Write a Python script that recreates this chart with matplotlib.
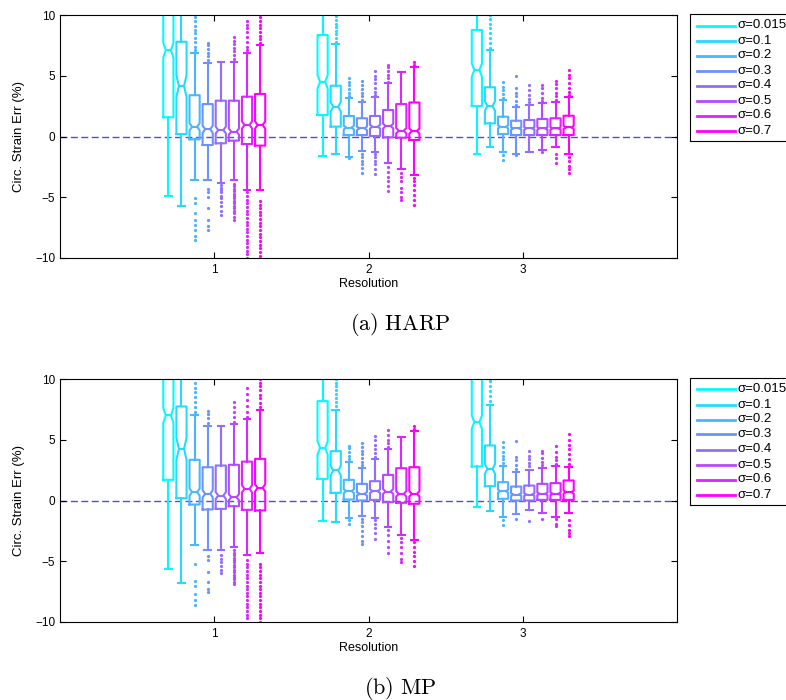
import matplotlib
matplotlib.use("Agg")
import matplotlib.pyplot as plt
from matplotlib.lines import Line2D
from matplotlib.patches import Rectangle

plt.rcParams['font.family'] = ['Liberation Sans', 'DejaVu Sans']
plt.rcParams['mathtext.fontset'] = 'cm'

sigmas = [0.015, 0.1, 0.2, 0.3, 0.4, 0.5, 0.6, 0.7]
resolutions = [1, 2, 3]

# ---- HARP: box stats per resolution, one value per sigma ----
harp_q3 = [[12.5, 7.8, 3.4, 2.67, 2.95, 2.95, 3.28, 3.5],
           [8.35, 4.18, 1.69, 1.5, 1.69, 2.18, 2.67, 2.8],
           [8.77, 4.05, 1.63, 1.3, 1.36, 1.44, 1.5, 1.71]]
harp_q1 = [[1.58, 0.2, -0.23, -0.7, -0.56, -0.34, -0.62, -0.75],
           [1.77, 0.81, 0.12, 0.12, 0.04, -0.07, -0.1, -0.29],
           [2.51, 1.08, 0.2, 0.12, 0.12, 0.12, 0.12, 0.12]]
harp_med = [[7.1, 4.15, 0.8, 0.6, 0.53, 0.4, 0.95, 0.95],
            [4.5, 2.45, 0.73, 0.67, 0.81, 0.86, 0.48, 0.45],
            [5.47, 2.51, 0.8, 0.67, 0.67, 0.67, 0.67, 0.75]]
harp_lo = [[-4.9, -5.7, -3.6, -3.6, -3.8, -3.6, -4.4, -4.4],
           [-1.6, -1.47, -1.66, -1.17, -1.25, -2.15, -2.67, -3.2],
           [-1.47, -0.84, -1.25, -1.4, -1.25, -1.1, -0.84, -1.44]]
harp_hi = [[14.0, 13.0, 6.9, 6.07, 6.16, 6.16, 6.85, 7.5],
           [13.0, 7.6, 3.14, 2.87, 3.28, 4.37, 5.3, 5.7],
           [13.0, 7.1, 3.0, 2.4, 2.6, 2.73, 2.87, 3.22]]
harp_ci = [[0.6, 0.9, 0.3, 0.3, 0.28, 0.25, 0.3, 0.3],
           [0.55, 0.4, 0.15, 0.15, 0.15, 0.2, 0.22, 0.22],
           [0.55, 0.4, 0.12, 0.1, 0.1, 0.1, 0.1, 0.12]]
harp_out_hi = [
    [[], [],
     [7.1, 7.4, 7.8, 8.1, 8.5, 8.8, 9.1, 9.5, 9.8, 10.1],
     [6.3, 6.6, 6.9, 7.2, 7.5, 7.7],
     [],
     [6.4, 6.7, 7.0, 7.3, 7.6, 7.9, 8.2],
     [7.1, 7.4, 7.8, 8.2, 8.6, 8.9, 9.2, 9.5],
     [7.7, 8.0, 8.3, 8.6, 8.9, 9.2, 9.5, 9.8, 10.1]],
    [[],
     [7.8, 8.1, 8.4, 8.7, 9.0, 9.3, 9.6, 9.9],
     [3.3, 3.6, 3.9, 4.2, 4.5, 4.8],
     [3.0, 3.3, 3.6, 3.9, 4.2, 4.6],
     [3.4, 3.7, 4.0, 4.4, 4.7, 5.0, 5.4],
     [4.5, 4.8, 5.1, 5.4, 5.7, 5.9],
     [],
     [5.9, 6.1]],
    [[],
     [7.3, 7.7, 8.1, 8.5, 8.9, 9.3, 9.7, 10.0],
     [3.2, 3.5, 3.8, 4.1, 4.5],
     [2.6, 2.9, 3.3, 3.6, 4.0, 5.0],
     [2.8, 3.1, 3.4, 3.8, 4.2],
     [2.9, 3.2, 3.6, 4.0, 4.2],
     [3.0, 3.3, 3.6, 4.0, 4.3, 4.6],
     [3.4, 3.7, 4.0, 4.4, 4.8, 5.1, 5.5]]]
harp_out_lo = [
    [[], [],
     [-5.1, -5.5, -6.3, -6.9, -7.3, -7.7, -8.2, -8.5],
     [-4.3, -4.6, -5.0, -5.9, -6.9, -7.4, -7.7],
     [-4.0, -4.2, -4.4, -4.6, -4.9, -5.1, -5.4, -5.7, -6.1, -6.5],
     [-3.9, -4.1, -4.3, -4.5, -4.7, -4.9, -5.1, -5.3, -5.5, -5.7, -5.9, -6.1, -6.3, -6.6, -6.9],
     [-4.6, -4.9, -5.2, -5.5, -5.8, -6.1, -6.4, -6.7, -7.0, -7.3, -7.6, -7.9, -8.2, -8.5,
      -8.8, -9.1, -9.4, -9.7, -10.0],
     [-5.3, -5.6, -5.9, -6.2, -6.5, -6.8, -7.1, -7.4, -7.7, -8.0, -8.3, -8.6, -8.9, -9.2,
      -9.5, -9.8, -10.1]],
    [[], [],
     [-1.8],
     [-1.4, -1.7, -2.0, -2.3, -2.6, -3.0],
     [-1.4, -1.7, -2.0, -2.3, -2.7, -3.1],
     [-2.5, -2.9, -3.3, -3.7, -4.1, -4.5],
     [-3.0, -3.3, -3.7, -4.2, -4.6, -5.0, -5.2],
     [-3.4, -3.7, -4.0, -4.4, -4.8, -5.2, -5.6]],
    [[], [],
     [-1.5, -1.9],
     [-1.5],
     [],
     [-1.3],
     [-1.4, -1.8, -2.2],
     [-1.7, -2.0, -2.4, -2.7, -3.0]]]

# ---- MP ----
mp_q3 = [[12.5, 7.74, 3.35, 2.74, 2.88, 2.94, 3.2, 3.43],
         [8.18, 4.06, 1.7, 1.37, 1.59, 2.11, 2.66, 2.74],
         [12.5, 4.53, 1.51, 1.15, 1.23, 1.37, 1.43, 1.65]]
mp_q1 = [[1.7, 0.19, -0.33, -0.74, -0.69, -0.47, -0.77, -0.82],
         [1.78, 0.63, 0.08, 0.0, 0.05, -0.14, -0.19, -0.27],
         [2.8, 1.18, 0.14, 0.0, 0.0, 0.05, 0.05, 0.05]]
mp_med = [[7.0, 4.25, 0.69, 0.55, 0.41, 0.27, 0.96, 1.04],
          [4.33, 2.47, 0.77, 0.55, 0.77, 0.74, 0.55, 0.55],
          [6.45, 2.6, 0.77, 0.49, 0.49, 0.55, 0.55, 0.69]]
mp_lo = [[-5.6, -6.8, -3.7, -4.1, -4.1, -3.8, -4.5, -4.3],
         [-1.65, -1.78, -1.43, -1.29, -1.43, -2.2, -2.88, -3.24],
         [-0.5, -0.88, -1.32, -1.1, -0.82, -1.04, -1.32, -1.04]]
mp_hi = [[14.0, 13.0, 7.05, 6.17, 6.17, 6.3, 6.7, 7.46],
         [13.0, 7.46, 3.2, 2.69, 3.43, 4.25, 5.2, 5.76],
         [14.0, 7.9, 2.88, 2.33, 2.52, 2.69, 2.8, 2.74]]
mp_ci = [[0.6, 0.9, 0.3, 0.3, 0.28, 0.25, 0.3, 0.3],
         [0.55, 0.4, 0.15, 0.15, 0.15, 0.2, 0.22, 0.22],
         [0.55, 0.4, 0.12, 0.1, 0.1, 0.1, 0.1, 0.12]]
mp_out_hi = [
    [[], [],
     [7.3, 7.7, 8.1, 8.5, 8.9, 9.3, 9.7],
     [6.4, 6.8, 7.1, 7.4],
     [],
     [6.5, 6.9, 7.3, 7.7, 8.1],
     [6.9, 7.3, 7.8, 8.3, 8.8, 9.3],
     [7.7, 8.0, 8.4, 8.7, 9.1, 9.4, 9.7, 10.0]],
    [[],
     [7.8, 8.1, 8.4, 8.8, 9.1, 9.4, 9.7, 10.0],
     [3.4, 3.7, 4.0, 4.3, 4.5],
     [2.9, 3.2, 3.5, 3.8, 4.1, 4.4, 4.7],
     [3.6, 3.9, 4.2, 4.6, 5.0, 5.3],
     [4.4, 4.7, 5.0, 5.4, 5.8],
     [],
     [5.9, 6.1]],
    [[],
     [8.2, 8.6, 9.0, 9.4, 9.8, 10.0],
     [3.1, 3.4, 3.7, 4.0, 4.4, 4.8],
     [2.6, 2.9, 3.3, 3.6, 4.9],
     [2.8, 3.1, 3.4, 3.7, 4.1],
     [2.9, 3.2, 3.5, 3.9, 4.1],
     [3.0, 3.3, 3.6, 4.0, 4.5],
     [3.0, 3.4, 3.8, 4.2, 4.6, 5.0, 5.5]]]
mp_out_lo = [
    [[], [],
     [-5.2, -6.6, -7.0, -7.7, -8.2, -8.6],
     [-4.6, -4.9, -5.9, -6.7, -7.3, -7.5],
     [-4.5, -4.8, -5.1, -5.4, -5.7, -6.0],
     [-4.1, -4.3, -4.5, -4.7, -4.9, -5.1, -5.3, -5.5, -5.7, -5.9, -6.1, -6.3, -6.5, -6.7, -6.9],
     [-4.9, -5.2, -5.5, -5.8, -6.1, -6.4, -6.7, -7.0, -7.3, -7.6, -7.9, -8.2, -8.5, -8.8,
      -9.1, -9.4, -9.7],
     [-5.2, -5.5, -5.8, -6.1, -6.4, -6.7, -7.0, -7.3, -7.6, -7.9, -8.2, -8.5, -8.8, -9.1,
      -9.4, -9.7, -10.0]],
    [[], [],
     [-1.6, -1.9],
     [-1.5, -1.8, -2.1, -2.5, -2.9, -3.3, -3.6],
     [-1.6, -1.9, -2.3, -2.7, -3.2],
     [-2.4, -2.8, -3.3, -3.8, -4.3],
     [-3.1, -3.4, -3.8, -4.3, -4.8, -5.1],
     [-3.4, -3.8, -4.2, -4.6, -5.0, -5.35]],
    [[], [],
     [-1.6, -2.0],
     [-1.5],
     [-1.7],
     [-1.5],
     [-1.5, -1.9, -2.1],
     [-1.6, -2.0, -2.4, -2.7, -2.9]]]

cmap = plt.get_cmap('cool')
colors = [cmap(s / max(sigmas)) for s in sigmas]

W, H = 786, 700
fig = plt.figure(figsize=(W / 100, H / 100), dpi=100)
ax_top = fig.add_axes([60 / W, 1 - 258 / H, 617 / W, 243 / H])
ax_bot = fig.add_axes([60 / W, 1 - 622 / H, 617 / W, 243 / H])

step = 0.085


def px(x, y):
    # pixel position (from top-left) -> figure fraction
    return x / W, 1 - y / H


def draw_legend(top):
    # boxed legend to the right of the axes, running off the figure edge
    x0, y0 = px(690, top + 127)
    fig.add_artist(Rectangle((x0, y0), 120 / W, 127 / H, transform=fig.transFigure,
                             fill=False, ec='black', lw=0.8, clip_on=False))
    for k, c in enumerate(colors):
        yy = top + 11.5 + 15 * k
        xa, ya = px(697, yy)
        xb, _ = px(735, yy)
        fig.add_artist(Line2D([xa, xb], [ya, ya], transform=fig.transFigure,
                              color=c, lw=2))
        xt, _ = px(738, yy)
        fig.text(xt, ya, 'σ=' + str(sigmas[k]), fontsize=9.5, va='center', ha='left')


def draw_panel(ax, q1, q3, med, lo, hi, ci, out_hi, out_lo):
    ax.axhline(0, color=(0.3, 0.3, 0.9), lw=1, dashes=(5, 2.5), zorder=1)
    for k, c in enumerate(colors):
        stats = []
        for r in range(len(resolutions)):
            stats.append(dict(med=med[r][k], q1=q1[r][k], q3=q3[r][k],
                              whislo=lo[r][k], whishi=hi[r][k],
                              cilo=med[r][k] - ci[r][k], cihi=med[r][k] + ci[r][k],
                              fliers=out_hi[r][k] + out_lo[r][k]))
        pos = [res + (k - 3.5) * step for res in resolutions]
        lp = dict(color=c, lw=1.5)
        ax.bxp(stats, positions=pos, widths=0.066, capwidths=0.042,
               shownotches=True, showfliers=True, manage_ticks=False,
               boxprops=lp, whiskerprops=lp, capprops=lp, medianprops=lp,
               flierprops=dict(marker='.', ms=2.6, mfc=c, mec=c, ls='none'))
    ax.set_xlim(0, 4)
    ax.set_ylim(-10, 10)
    ax.set_xticks(resolutions)
    ax.set_yticks([-10, -5, 0, 5, 10])
    ax.tick_params(direction='in', top=True, right=True, length=4, width=0.8,
                   labelsize=8.5)
    ax.tick_params(axis='x', pad=4)
    ax.tick_params(axis='y', pad=3.5)
    for sp in ax.spines.values():
        sp.set_linewidth(0.8)
    ax.set_xlabel('Resolution', fontsize=9, labelpad=2)
    ax.set_ylabel('Circ. Strain Err (%)', fontsize=9.5, labelpad=7)


draw_panel(ax_top, harp_q1, harp_q3, harp_med, harp_lo, harp_hi, harp_ci,
           harp_out_hi, harp_out_lo)
draw_panel(ax_bot, mp_q1, mp_q3, mp_med, mp_lo, mp_hi, mp_ci,
           mp_out_hi, mp_out_lo)
draw_legend(14)
draw_legend(378)

fig.text(400 / W, 1 - 325 / H, r'$\mathrm{(a)\ HARP}$', ha='center', va='center',
         fontsize=16)
fig.text(400 / W, 1 - 688 / H, r'$\mathrm{(b)\ MP}$', ha='center', va='center',
         fontsize=16)

fig.savefig('out.png', dpi=100)
